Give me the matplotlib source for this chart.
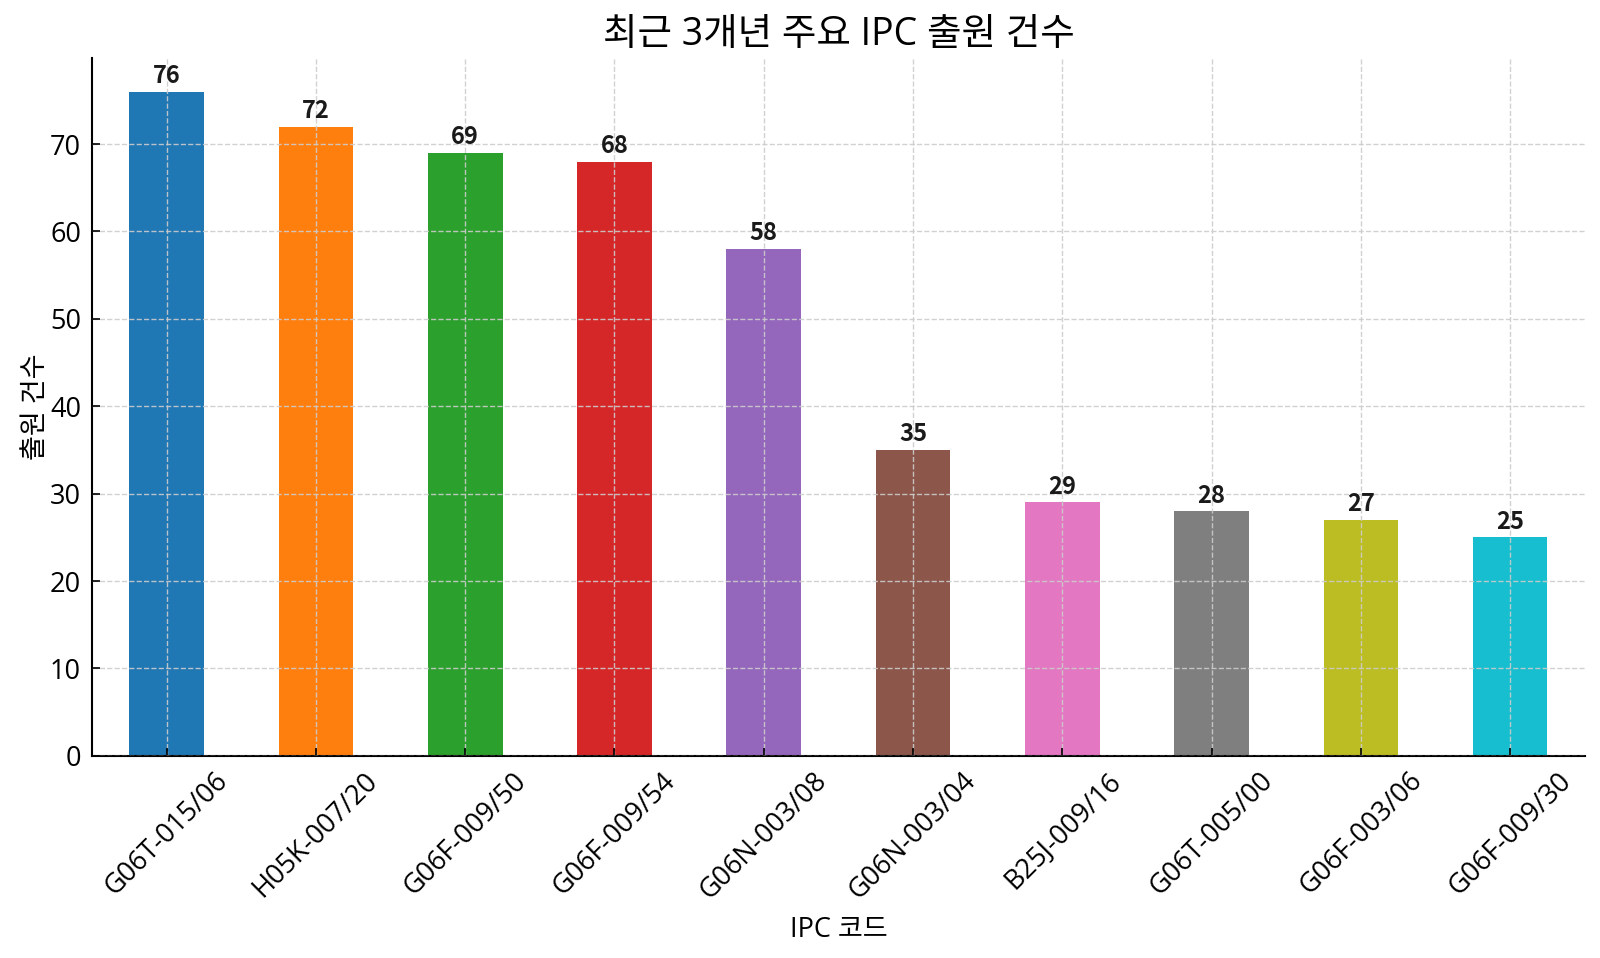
import matplotlib
matplotlib.use("Agg")
import matplotlib.pyplot as plt

plt.rcParams['font.family'] = ['Open Sans', 'Noto Sans CJK KR', 'DejaVu Sans']

categories = ["G06T-015/06", "H05K-007/20", "G06F-009/50", "G06F-009/54", "G06N-003/08",
              "G06N-003/04", "B25J-009/16", "G06T-005/00", "G06F-003/06", "G06F-009/30"]
counts = [76, 72, 69, 68, 58, 35, 29, 28, 27, 25]
colors = ["#1f77b4", "#ff7f0e", "#2ca02c", "#d62728", "#9467bd",
          "#8c564b", "#e377c2", "#7f7f7f", "#bcbd22", "#17becf"]

fig = plt.figure(figsize=(16, 9.58), dpi=100)
ax = fig.add_axes([0.0575, 0.211, 0.933, 0.728])

x = list(range(len(categories)))
bars = ax.bar(x, counts, width=0.5, color=colors)
for b, v in zip(bars, counts):
    ax.text(b.get_x() + b.get_width() / 2, v + 0.4, str(v), ha='center', va='bottom',
            fontsize=17, fontweight='bold', color='#1a1a1a',
            family=['Noto Sans CJK KR', 'DejaVu Sans'])

ax.set_xlim(-0.5, 9.5)
ax.set_ylim(0, 79.8)
ax.set_xticks(x)
ax.set_xticklabels(categories, rotation=45, ha='center', fontsize=19.5)
ax.tick_params(axis='y', labelsize=19.5, pad=8)
ax.tick_params(axis='x', pad=8)
ax.tick_params(direction='in', length=6, width=1.2)
ax.set_title("최근 3개년 주요 IPC 출원 건수", fontsize=27, pad=10)
ax.set_xlabel("IPC 코드", fontsize=19.5, labelpad=8)
ax.set_ylabel("출원 건수", fontsize=19.5, labelpad=0)

ax.spines['top'].set_visible(False)
ax.spines['right'].set_visible(False)
ax.spines['left'].set_linewidth(1.5)
ax.spines['bottom'].set_linewidth(1.5)
ax.set_axisbelow(False)
ax.grid(True, linestyle='--', color='#cccccc', linewidth=1.0, alpha=0.9)

fig.savefig("out.png", dpi=100)
